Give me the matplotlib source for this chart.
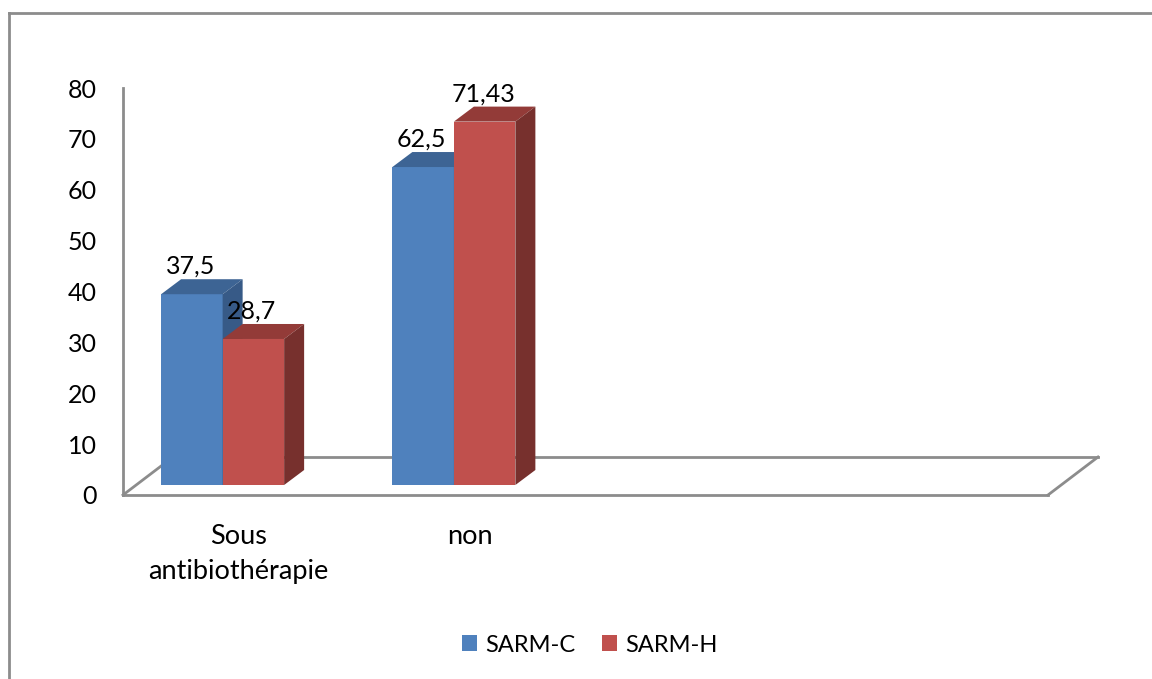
import matplotlib
matplotlib.use("Agg")
import matplotlib.pyplot as plt
from matplotlib.lines import Line2D
from matplotlib.patches import Polygon, Patch

# données
categories = ["Sous\nantibiothérapie", "non"]
series = ["SARM-C", "SARM-H"]
sarm_c = [37.5, 62.5]
sarm_h = [28.7, 71.43]
n_slots = 4          # emplacements de catégories sur le plancher
y_ticks = [0, 10, 20, 30, 40, 50, 60, 70, 80]

plt.rcParams["font.family"] = ["Lato", "DejaVu Sans"]
plt.rcParams["font.size"] = 18

FRONT = {"SARM-C": "#4F81BD", "SARM-H": "#C0504D"}
TOP = {"SARM-C": "#3D6494", "SARM-H": "#933B38"}
SIDE = {"SARM-C": "#375A87", "SARM-H": "#77302D"}
GRID = "#8C8C8C"

W, H = 1152, 679
fig = plt.figure(figsize=(W / 100, H / 100), dpi=100)
ax_px = (123, 495, 925, 407)   # gauche, bas (px depuis le haut), largeur, hauteur
ax = fig.add_axes([ax_px[0] / W, (H - ax_px[1]) / H, ax_px[2] / W, ax_px[3] / H])
ax.set_xlim(0, n_slots)
ax.set_ylim(0, 80)
sx = ax_px[2] / n_slots   # px par catégorie
sy = ax_px[3] / 80        # px par unité

# effet 3D : profondeur des barres et du plancher (en px -> unités de données)
bar_dx, bar_dy = 20 / sx, 15 / sy
shift_x, shift_y = -16 / sx, 10 / sy
floor_dx, floor_dy = 50 / sx, 38 / sy
w = 61.5 / sx

# plancher
fl = dict(color=GRID, lw=2, clip_on=False, zorder=1)
ax.plot([0, n_slots], [0, 0], **fl)
ax.plot([floor_dx, n_slots + floor_dx], [floor_dy, floor_dy], **fl)
ax.plot([0, floor_dx], [0, floor_dy], **fl)
ax.plot([n_slots, n_slots + floor_dx], [0, floor_dy], **fl)


def box(x0, val, name):
    x1 = x0 + w
    y0, y1 = shift_y, shift_y + val
    ax.bar(x0, val, width=w, bottom=y0, align="edge", color=FRONT[name],
           edgecolor="none", zorder=3)
    ax.add_patch(Polygon([(x0, y1), (x1, y1), (x1 + bar_dx, y1 + bar_dy),
                          (x0 + bar_dx, y1 + bar_dy)], closed=True,
                         facecolor=TOP[name], edgecolor="none", zorder=3))
    ax.add_patch(Polygon([(x1, y0), (x1, y1), (x1 + bar_dx, y1 + bar_dy),
                          (x1 + bar_dx, y0 + bar_dy)], closed=True,
                         facecolor=SIDE[name], edgecolor="none", zorder=3))
    ax.annotate(f"{val:g}".replace(".", ","), ((x0 + x1) / 2, y1),
                xytext=(-1, 20), textcoords="offset points",
                ha="center", va="center", zorder=5)


for i in range(len(categories)):
    c = i + 0.5 + shift_x
    box(c - w, sarm_c[i], "SARM-C")
    box(c, sarm_h[i], "SARM-H")

ax.set_yticks(y_ticks)
for t in ax.get_yticklabels():
    t.set_verticalalignment("center_baseline")
ax.set_xticks([i + 0.5 for i in range(len(categories))])
ax.set_xticklabels(categories, linespacing=1.5, fontsize=19.5)
ax.tick_params(axis="y", length=0, pad=19)
ax.tick_params(axis="x", length=0, pad=21)
for s in ["top", "right", "bottom"]:
    ax.spines[s].set_visible(False)
ax.spines["left"].set_color(GRID)
ax.spines["left"].set_linewidth(2)
ax.patch.set_visible(False)

handles = [Patch(facecolor=FRONT[s], edgecolor="none") for s in series]
fig.legend(handles, series, loc="center", bbox_to_anchor=(590 / W, 1 - 645 / H),
           ncol=2, frameon=False, fontsize=17, handlelength=0.65, handleheight=0.65,
           handletextpad=0.35, columnspacing=1.1)

# cadre de la zone de graphique
fig.add_artist(Line2D([9 / W, 1], [1 - 13 / H, 1 - 13 / H], color=GRID, lw=2))
fig.add_artist(Line2D([9 / W, 9 / W], [0, 1 - 13 / H], color=GRID, lw=2))

fig.savefig("out.png", dpi=100)
